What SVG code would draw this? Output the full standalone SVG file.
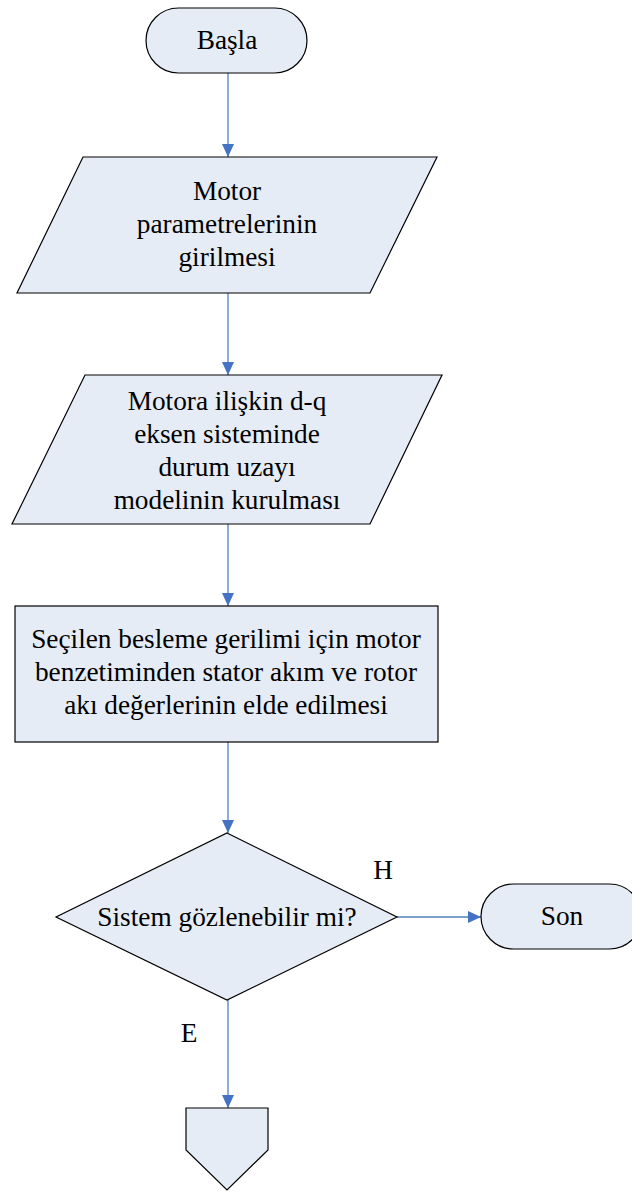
<svg xmlns="http://www.w3.org/2000/svg" width="632" height="1192" viewBox="0 0 632 1192">
  <style>
    .shape { fill: #E6ECF6; stroke: #000000; stroke-width: 1.2; }
    .label { font-family: "Liberation Serif", "Times New Roman", serif; font-size: 27.3px; fill: #000000; text-anchor: middle; }
    .flow { stroke: #4F81BD; stroke-width: 1.3; fill: none; marker-end: url(#arrow); }
  </style>
  <defs>
    <marker id="arrow" markerWidth="13" markerHeight="12" refX="13" refY="6" orient="auto" markerUnits="userSpaceOnUse" viewBox="0 0 13 12">
      <path d="M0,0 L13,6 L0,12 Z" fill="#4472C4"/>
    </marker>
  </defs>

  <rect width="632" height="1192" fill="#FFFFFF"/>

  <!-- connectors -->
  <g id="connectors">
    <line class="flow" x1="228" y1="73" x2="228" y2="157"/>
    <line class="flow" x1="228" y1="293" x2="228" y2="375"/>
    <line class="flow" x1="228" y1="524" x2="228" y2="606"/>
    <line class="flow" x1="228" y1="742" x2="228" y2="833"/>
    <line class="flow" x1="397" y1="917" x2="481" y2="917"/>
    <line class="flow" x1="228" y1="1000" x2="228" y2="1108"/>
    <text class="label" x="383" y="879">H</text>
    <text class="label" x="189" y="1042">E</text>
  </g>

  <!-- start terminator -->
  <g id="start">
    <rect class="shape" x="146" y="8" width="161" height="65" rx="32.5" ry="32.5"/>
    <text class="label" x="227" y="49">Başla</text>
  </g>

  <!-- parameter input -->
  <g id="input-params">
    <polygon class="shape" points="83,157 437,157 370,293 17,293"/>
    <text class="label" x="227" y="200">Motor</text>
    <text class="label" x="227" y="233">parametrelerinin</text>
    <text class="label" x="227" y="266">girilmesi</text>
  </g>

  <!-- state-space model -->
  <g id="model">
    <polygon class="shape" points="85,375 442,375 370,524 12,524"/>
    <text class="label" x="227" y="410">Motora ilişkin d-q</text>
    <text class="label" x="227" y="443">eksen sisteminde</text>
    <text class="label" x="227" y="476">durum uzayı</text>
    <text class="label" x="227" y="509">modelinin kurulması</text>
  </g>

  <!-- simulation process -->
  <g id="simulation">
    <rect class="shape" x="15" y="606" width="423" height="136"/>
    <text class="label" x="226" y="648">Seçilen besleme gerilimi için motor</text>
    <text class="label" x="226" y="681">benzetiminden stator akım ve rotor</text>
    <text class="label" x="226" y="714">akı değerlerinin elde edilmesi</text>
  </g>

  <!-- observability decision -->
  <g id="decision">
    <polygon class="shape" points="227,833 397,917 227,1000 56,917"/>
    <text class="label" x="227" y="926">Sistem gözlenebilir mi?</text>
  </g>

  <!-- end terminator -->
  <g id="end">
    <rect class="shape" x="481" y="884" width="161" height="65" rx="32.5" ry="32.5"/>
    <text class="label" x="562" y="925">Son</text>
  </g>

  <!-- off-page connector -->
  <g id="offpage">
    <polygon class="shape" points="186,1108 268,1108 268,1150 227,1190 186,1150"/>
  </g>
</svg>
